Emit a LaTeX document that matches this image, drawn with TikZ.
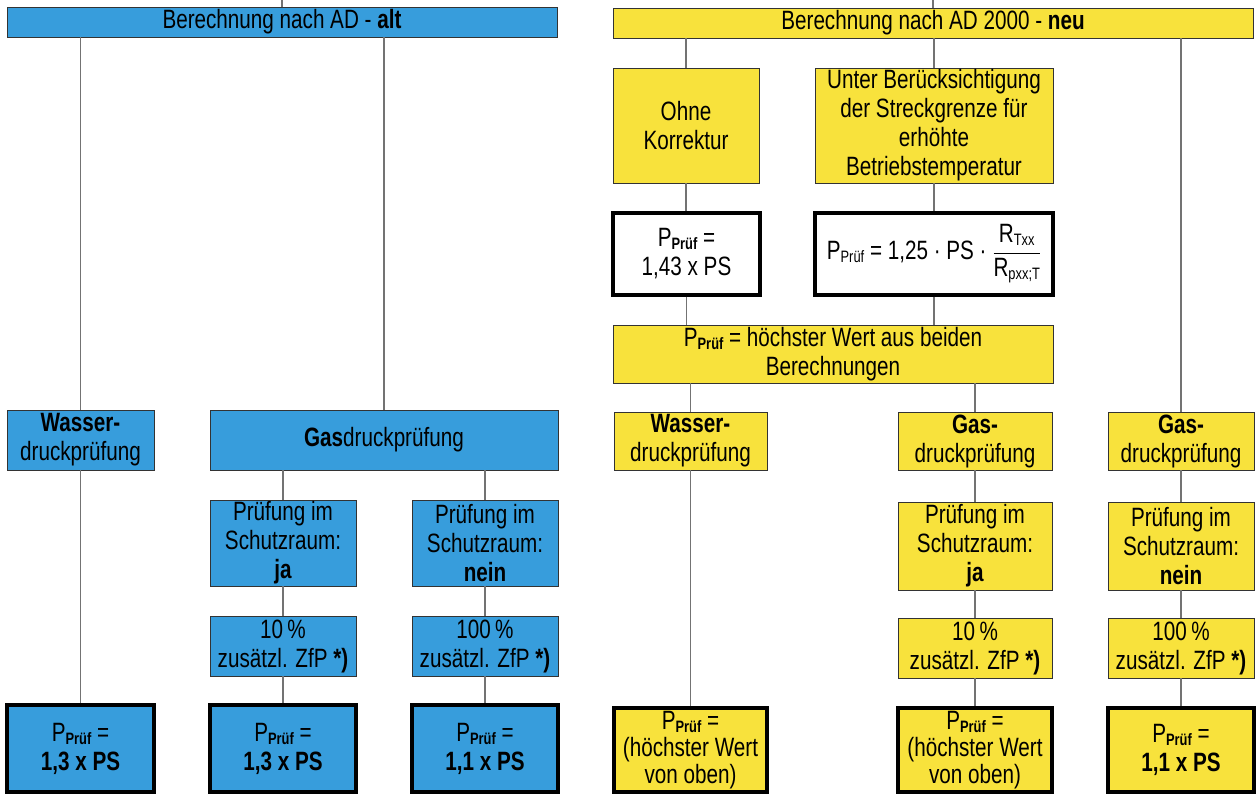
\documentclass[tikz,border=0pt]{standalone}
\usepackage{fontspec}
\setmainfont{Liberation Sans}[FakeStretch=0.78]
\definecolor{bblue}{RGB}{55,157,220}
\definecolor{byell}{RGB}{248,226,60}
\newcommand\pp{P{\fontsize{16.5}{16.5}\selectfont\raisebox{-3pt}{\textbf{Prüf}}}}
\newcommand\ppr{P{\fontsize{16.5}{16.5}\selectfont\raisebox{-3pt}{Prüf}}}
\newcommand\sbx[1]{{\fontsize{16.5}{16.5}\selectfont\raisebox{-3pt}{#1}}}
\newcommand\mkbox[7]{\node[#2, minimum width={#5-#3}, minimum height={#6-#4}] (#1) at ({(#3+#5)/2},{(#4+#6)/2}) {#7};}
\begin{document}
\begin{tikzpicture}[x=1pt,y=-1pt,
  bx/.style={draw=black!80, line width=0.9pt, align=center, inner sep=0pt, font=\fontsize{26.5}{29}\selectfont},
  blu/.style={bx, fill=bblue},
  yel/.style={bx, fill=byell},
  res/.style={line width=3.2pt, draw=black},
  tight/.style={font=\fontsize{26.5}{27}\selectfont},
  con/.style={draw=black!55, line width=1.2pt}]
\useasboundingbox (0,0) rectangle (1258,794);

% ---------- left (blue) ----------
\mkbox{topL}{blu}{7}{7}{557}{37}{Berechnung nach AD - \textbf{alt}}
\mkbox{wasL}{blu}{7}{410}{154}{470}{\textbf{Wasser-}\\druckprüfung}
\mkbox{gasL}{blu}{210}{410}{558}{470}{\textbf{Gas}druckprüfung}
\mkbox{jaL}{blu}{210}{500}{356}{586}{Prüfung im\\Schutzraum:\\\textbf{ja}}
\mkbox{neinL}{blu}{412}{500}{558}{586}{Prüfung im\\Schutzraum:\\\textbf{nein}}
\mkbox{zaL}{blu}{210}{616}{356}{676}{10\,\%\\zusätzl. ZfP \textbf{*)}}
\mkbox{zbL}{blu}{412}{616}{558}{676}{100\,\%\\zusätzl. ZfP \textbf{*)}}
\mkbox{r1L}{blu,res}{7}{705}{154}{792}{\pp{} =\\\textbf{1,3 x PS}}
\mkbox{r2L}{blu,res}{210}{705}{356}{792}{\pp{} =\\\textbf{1,3 x PS}}
\mkbox{r3L}{blu,res}{412}{705}{558}{792}{\pp{} =\\\textbf{1,1 x PS}}

\coordinate (inL) at (282,0);
\draw[con] (inL) -- (topL.north);
\draw[con] (topL.south -| wasL.north) -- (wasL.north);
\draw[con] (topL.south -| gasL.north) -- (gasL.north);
\draw[con] (wasL.south) -- (r1L.north -| wasL.south);
\draw[con] (gasL.south -| jaL.north) -- (jaL.north);
\draw[con] (gasL.south -| neinL.north) -- (neinL.north);
\draw[con] (jaL.south) -- (zaL.north);
\draw[con] (neinL.south) -- (zbL.north);
\draw[con] (zaL.south) -- (r2L.north -| zaL.south);
\draw[con] (zbL.south) -- (r3L.north -| zbL.south);

% ---------- right (yellow) ----------
\mkbox{topR}{yel}{613}{8}{1253}{38}{Berechnung nach AD 2000 - \textbf{neu}}
\mkbox{ohne}{yel}{613}{68}{759}{183}{Ohne\\Korrektur}
\mkbox{unter}{yel}{815}{68}{1053}{183}{Unter Berücksichtigung\\der Streckgrenze für\\erhöhte\\Betriebstemperatur}
\mkbox{pa}{bx,res,fill=white}{613}{213}{760}{295}{\pp{} =\\1,43 x PS}
\mkbox{pb}{bx,res,fill=white}{815}{213}{1053}{295}{\ppr{} = 1,25 · PS · $\displaystyle\frac{\mbox{R\sbx{Txx}}}{\mbox{R\sbx{pxx;T}}}$}
\mkbox{hoe}{yel}{613}{325}{1053}{383}{\pp{} = höchster Wert aus beiden\\Berechnungen}
\mkbox{wasR}{yel}{614}{412}{767}{470}{\textbf{Wasser-}\\druckprüfung}
\mkbox{gasR}{yel}{898}{412}{1052}{470}{\textbf{Gas-}\\druckprüfung}
\mkbox{gasRR}{yel}{1108}{412}{1254}{470}{\textbf{Gas-}\\druckprüfung}
\mkbox{jaR}{yel}{898}{502}{1052}{590}{Prüfung im\\Schutzraum:\\\textbf{ja}}
\mkbox{neinR}{yel}{1108}{502}{1254}{590}{Prüfung im\\Schutzraum:\\\textbf{nein}}
\mkbox{zaR}{yel}{898}{618}{1052}{678}{10\,\%\\zusätzl. ZfP \textbf{*)}}
\mkbox{zbR}{yel}{1108}{618}{1254}{678}{100\,\%\\zusätzl. ZfP \textbf{*)}}
\mkbox{r1R}{yel,res,tight}{614}{708}{767}{792}{\pp{} =\\(höchster Wert\\von oben)}
\mkbox{r2R}{yel,res,tight}{898}{708}{1052}{792}{\pp{} =\\(höchster Wert\\von oben)}
\mkbox{r3R}{yel,res}{1108}{708}{1254}{792}{\pp{} =\\\textbf{1,1 x PS}}

\coordinate (inR) at (933,0);
\draw[con] (inR) -- (topR.north);
\draw[con] (topR.south -| ohne.north) -- (ohne.north);
\draw[con] (topR.south -| unter.north) -- (unter.north);
\draw[con] (topR.south -| gasRR.north) -- (gasRR.north);
\draw[con] (ohne.south) -- (pa.north -| ohne.south);
\draw[con] (unter.south) -- (pb.north);
\draw[con] (pa.south) -- (hoe.north -| pa.south);
\draw[con] (pb.south) -- (hoe.north -| pb.south);
\draw[con] (hoe.south -| wasR.north) -- (wasR.north);
\draw[con] (hoe.south -| gasR.north) -- (gasR.north);
\draw[con] (wasR.south) -- (r1R.north);
\draw[con] (gasR.south) -- (jaR.north);
\draw[con] (jaR.south) -- (zaR.north);
\draw[con] (zaR.south) -- (r2R.north);
\draw[con] (gasRR.south) -- (neinR.north);
\draw[con] (neinR.south) -- (zbR.north);
\draw[con] (zbR.south) -- (r3R.north);
\end{tikzpicture}
\end{document}
